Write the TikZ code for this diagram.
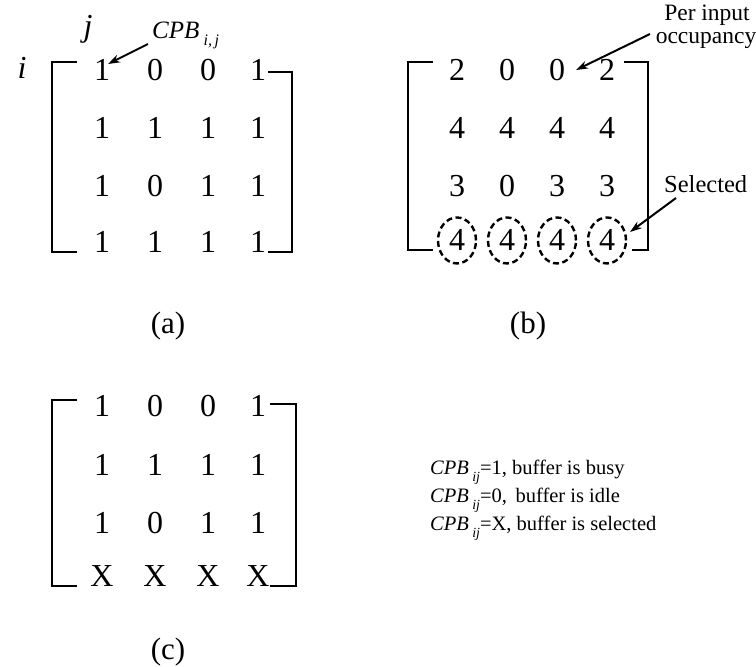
\documentclass[tikz,border=0pt]{standalone}
\usepackage{fontspec}
\setmainfont{Liberation Serif}
\usetikzlibrary{arrows.meta,shapes.geometric}
\begin{document}
\begin{tikzpicture}[x=1pt,y=-1pt,
  num/.style={font=\fontsize{32}{34}\selectfont, inner sep=0pt, anchor=base},
  captxt/.style={font=\fontsize{31}{33}\selectfont, inner sep=0pt, anchor=base},
  lbl/.style={font=\fontsize{23.5}{20}\selectfont, inner sep=0pt, anchor=base},
  leg/.style={font=\fontsize{20.5}{22}\selectfont, inner sep=0pt, anchor=base west},
  brk/.style={line width=2.4pt},
  arr/.style={line width=2pt, -{Stealth[length=12pt,width=8pt]}},
  selring/.style={draw, line width=2.4pt, dash pattern=on 6pt off 3.5pt, minimum width=38pt, minimum height=46pt, ellipse, inner sep=0pt}]
\useasboundingbox (0,0) rectangle (756,667);
% ---------- (a)
\draw[brk] (77,62) -- (52,62) -- (52,252) -- (77,252);
\draw[brk] (268,72) -- (292,72) -- (292,252) -- (268,252);
\node[num] (a11) at (102,80) {1};
\node[num] (a12) at (155,80) {0};
\node[num] (a13) at (208,80) {0};
\node[num] (a14) at (258,80) {1};
\node[num] (a21) at (102,138) {1};
\node[num] (a22) at (155,138) {1};
\node[num] (a23) at (208,138) {1};
\node[num] (a24) at (258,138) {1};
\node[num] (a31) at (102,196) {1};
\node[num] (a32) at (155,196) {0};
\node[num] (a33) at (208,196) {1};
\node[num] (a34) at (258,196) {1};
\node[num] (a41) at (102,252) {1};
\node[num] (a42) at (155,252) {1};
\node[num] (a43) at (208,252) {1};
\node[num] (a44) at (258,252) {1};
\node[num] (ilab) at (22,78) {\textit{i}};
\node[num] (jlab) at (88,36) {\textit{j}};
\node[font=\fontsize{25}{27}\selectfont, inner sep=0pt, anchor=base west] (cpb) at (152,38) {\textit{CPB}\,{\fontsize{16}{18}\selectfont\raisebox{-7pt}{\textit{i,\,j}}}};
\coordinate (cpbtail) at (148,44);
\coordinate (cpbtip) at (108,64);
\draw[arr] (cpbtail) -- (cpbtip);
\node[captxt] (la) at (168,333) {(a)};
% ---------- (b)
\draw[brk] (433,62) -- (408,62) -- (408,250) -- (433,250);
\draw[brk] (624,62) -- (648,62) -- (648,250) -- (632,250);
\node[num] (b11) at (457,80) {2};
\node[num] (b12) at (507,80) {0};
\node[num] (b13) at (557,80) {0};
\node[num] (b14) at (607,80) {2};
\node[num] (b21) at (457,138) {4};
\node[num] (b22) at (507,138) {4};
\node[num] (b23) at (557,138) {4};
\node[num] (b24) at (607,138) {4};
\node[num] (b31) at (457,196) {3};
\node[num] (b32) at (507,196) {0};
\node[num] (b33) at (557,196) {3};
\node[num] (b34) at (607,196) {3};
\node[num] (b41) at (457,250) {4};
\node[num] (b42) at (507,250) {4};
\node[num] (b43) at (557,250) {4};
\node[num] (b44) at (607,250) {4};
\foreach \n in {b41,b42,b43,b44}{
  \node[selring] (c\n) at ([yshift=-1pt]\n.center) {};
}
\node[lbl] (per1) at (707,20) {Per input};
\node[lbl] (per2) at (706,43) {occupancy};
\coordinate (pertail) at (650,34);
\coordinate (pertip) at (576,70);
\draw[arr] (pertail) -- (pertip);
\node[font=\fontsize{24.5}{26}\selectfont, inner sep=0pt, anchor=base west] (sel) at (664,192) {Selected};
\coordinate (seltail) at (676,198);
\coordinate (seltip) at (630,232);
\draw[arr] (seltail) -- (seltip);
\node[captxt] (lb) at (528,333) {(b)};
% ---------- (c)
\draw[brk] (77,400) -- (52,400) -- (52,586) -- (77,586);
\draw[brk] (270,404) -- (296,404) -- (296,586) -- (270,586);
\node[num] (c11) at (102,416) {1};
\node[num] (c12) at (155,416) {0};
\node[num] (c13) at (208,416) {0};
\node[num] (c14) at (258,416) {1};
\node[num] (c21) at (102,475) {1};
\node[num] (c22) at (155,475) {1};
\node[num] (c23) at (208,475) {1};
\node[num] (c24) at (258,475) {1};
\node[num] (c31) at (102,533) {1};
\node[num] (c32) at (155,533) {0};
\node[num] (c33) at (208,533) {1};
\node[num] (c34) at (258,533) {1};
\node[num] (c41) at (102,586) {X};
\node[num] (c42) at (155,586) {X};
\node[num] (c43) at (208,586) {X};
\node[num] (c44) at (258,586) {X};
\node[captxt] (lc) at (168,659) {(c)};
% ---------- legend
\node[leg] (l1) at (430,474) {\textit{CPB}\,{\fontsize{14}{15}\selectfont\raisebox{-7pt}{\textit{ij}}}=1, buffer is busy};
\node[leg] (l2) at (430,502) {\textit{CPB}\,{\fontsize{14}{15}\selectfont\raisebox{-7pt}{\textit{ij}}}=0,\, buffer is idle};
\node[leg] (l3) at (430,530) {\textit{CPB}\,{\fontsize{14}{15}\selectfont\raisebox{-7pt}{\textit{ij}}}=X, buffer is selected};
\end{tikzpicture}
\end{document}
